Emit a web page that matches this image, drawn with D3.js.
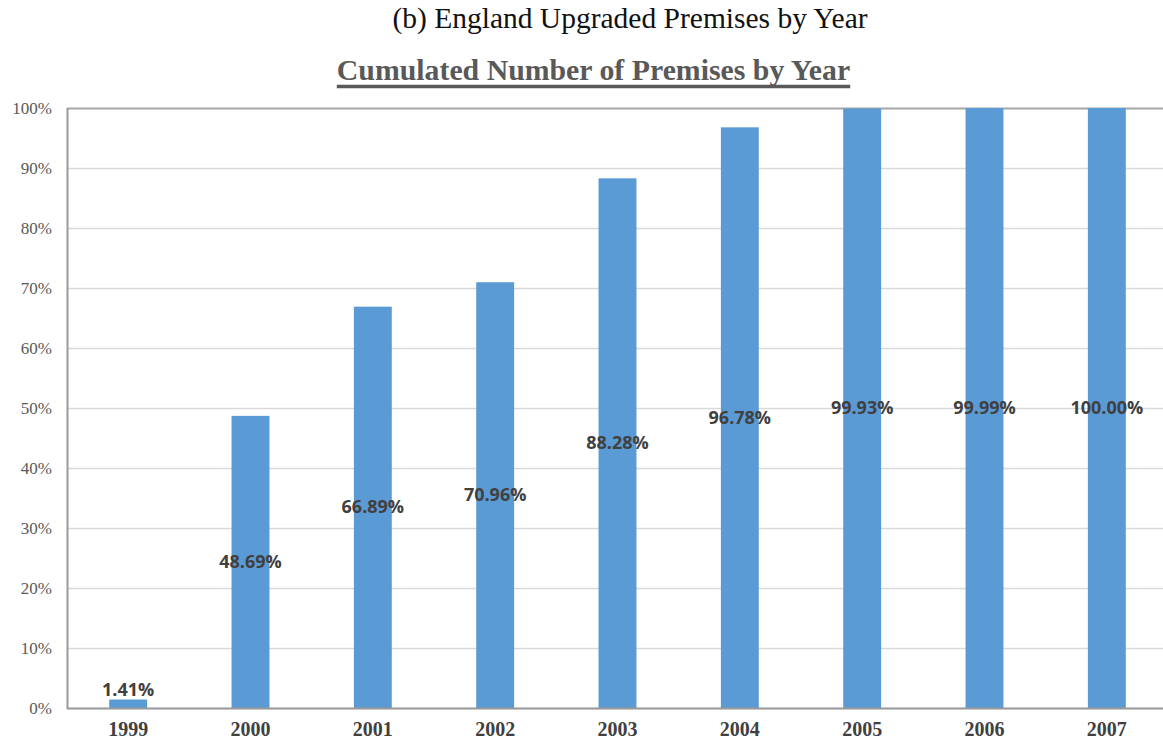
<!DOCTYPE html>
<html>
<head>
<meta charset="utf-8">
<script src="https://cdn.jsdelivr.net/npm/d3@7"></script>
<style>
  html, body { margin: 0; padding: 0; background: #fff; }
  svg { display: block; }
</style>
</head>
<body>
<svg id="chart" width="1163" height="743"></svg>
<script>
// Cumulative share of upgraded premises, by year
const years = ["1999", "2000", "2001", "2002", "2003", "2004", "2005", "2006", "2007"];
const shares = [1.41, 48.69, 66.89, 70.96, 88.28, 96.78, 99.93, 99.99, 100.00];
const yTicks = [0, 10, 20, 30, 40, 50, 60, 70, 80, 90, 100];

const svg = d3.select("#chart");
const margin = { left: 67, top: 108, bottom: 708 };
const plotRight = 1168;

const x = d3.scaleBand().domain(years).range([margin.left, plotRight]).paddingInner(0.69).paddingOuter(0.345);
const y = d3.scaleLinear().domain([0, 100]).range([margin.bottom, margin.top]);

const serif = "'Liberation Serif', 'Times New Roman', serif";

// Caption above the chart
svg.append("text")
  .attr("x", 630).attr("y", 28)
  .attr("text-anchor", "middle")
  .style("font-family", serif)
  .style("font-size", "29.5px")
  .attr("fill", "#111")
  .text("(b) England Upgraded Premises by Year");

// Chart title with underline
const title = svg.append("text")
  .attr("x", 593.5).attr("y", 80)
  .attr("text-anchor", "middle")
  .style("font-family", serif)
  .style("font-size", "29.8px")
  .style("font-weight", "bold")
  .attr("fill", "#595959")
  .text("Cumulated Number of Premises by Year");
const tb = title.node().getBBox();
svg.append("line")
  .attr("x1", tb.x).attr("x2", tb.x + tb.width)
  .attr("y1", 86.5).attr("y2", 86.5)
  .attr("stroke", "#595959").attr("stroke-width", 3.5);

// Horizontal gridlines
svg.append("g")
  .selectAll("line")
  .data(yTicks)
  .join("line")
  .attr("x1", margin.left).attr("x2", 1163)
  .attr("y1", d => Math.round(y(d)) + 0.5).attr("y2", d => Math.round(y(d)) + 0.5)
  .attr("stroke", d => d === 100 ? "#a6a6a6" : "#d9d9d9")
  .attr("stroke-width", d => d === 100 ? 2 : 1.5);

// Y axis tick labels
const yAxis = svg.append("g")
  .attr("transform", `translate(${margin.left},0)`)
  .call(d3.axisLeft(y).tickValues(yTicks).tickFormat(d => d + "%").tickSize(0).tickPadding(15));
yAxis.select(".domain").remove();
yAxis.selectAll("text")
  .style("font-family", serif)
  .style("font-size", "17px")
  .attr("fill", "#595959");

// Bars
svg.append("g")
  .selectAll("rect")
  .data(years.map((yr, i) => ({ yr, v: shares[i] })))
  .join("rect")
  .attr("x", d => x(d.yr))
  .attr("width", x.bandwidth())
  .attr("y", d => y(d.v))
  .attr("height", d => y(0) - y(d.v))
  .attr("fill", "#5b9bd5");

// Axis lines: left and bottom
svg.append("line")
  .attr("x1", margin.left + 0.5).attr("x2", margin.left + 0.5)
  .attr("y1", margin.top).attr("y2", margin.bottom + 1)
  .attr("stroke", "#999").attr("stroke-width", 2);
svg.append("line")
  .attr("x1", margin.left).attr("x2", 1163)
  .attr("y1", margin.bottom + 0.5).attr("y2", margin.bottom + 0.5)
  .attr("stroke", "#999").attr("stroke-width", 2);

// X axis category labels
const xAxis = svg.append("g")
  .attr("transform", `translate(0,${margin.bottom})`)
  .call(d3.axisBottom(x).tickSize(0).tickPadding(14));
xAxis.select(".domain").remove();
xAxis.selectAll("text")
  .style("font-family", serif)
  .style("font-size", "20px")
  .style("font-weight", "bold")
  .attr("fill", "#404040");

// Value labels, centred in each bar (above when the bar is too short)
svg.append("g")
  .selectAll("text")
  .data(years.map((yr, i) => ({ yr, v: shares[i] })))
  .join("text")
  .attr("x", d => x(d.yr) + x.bandwidth() / 2)
  .attr("y", d => {
    const h = y(0) - y(d.v);
    return h < 24 ? y(d.v) - 4 : (y(d.v) + y(0)) / 2 + 6;
  })
  .attr("text-anchor", "middle")
  .style("font-family", "'Open Sans', 'Liberation Sans', sans-serif")
  .style("font-size", "18px")
  .style("font-weight", "bold")
  .attr("fill", "#404040")
  .text(d => d.v.toFixed(2) + "%");
</script>
</body>
</html>
